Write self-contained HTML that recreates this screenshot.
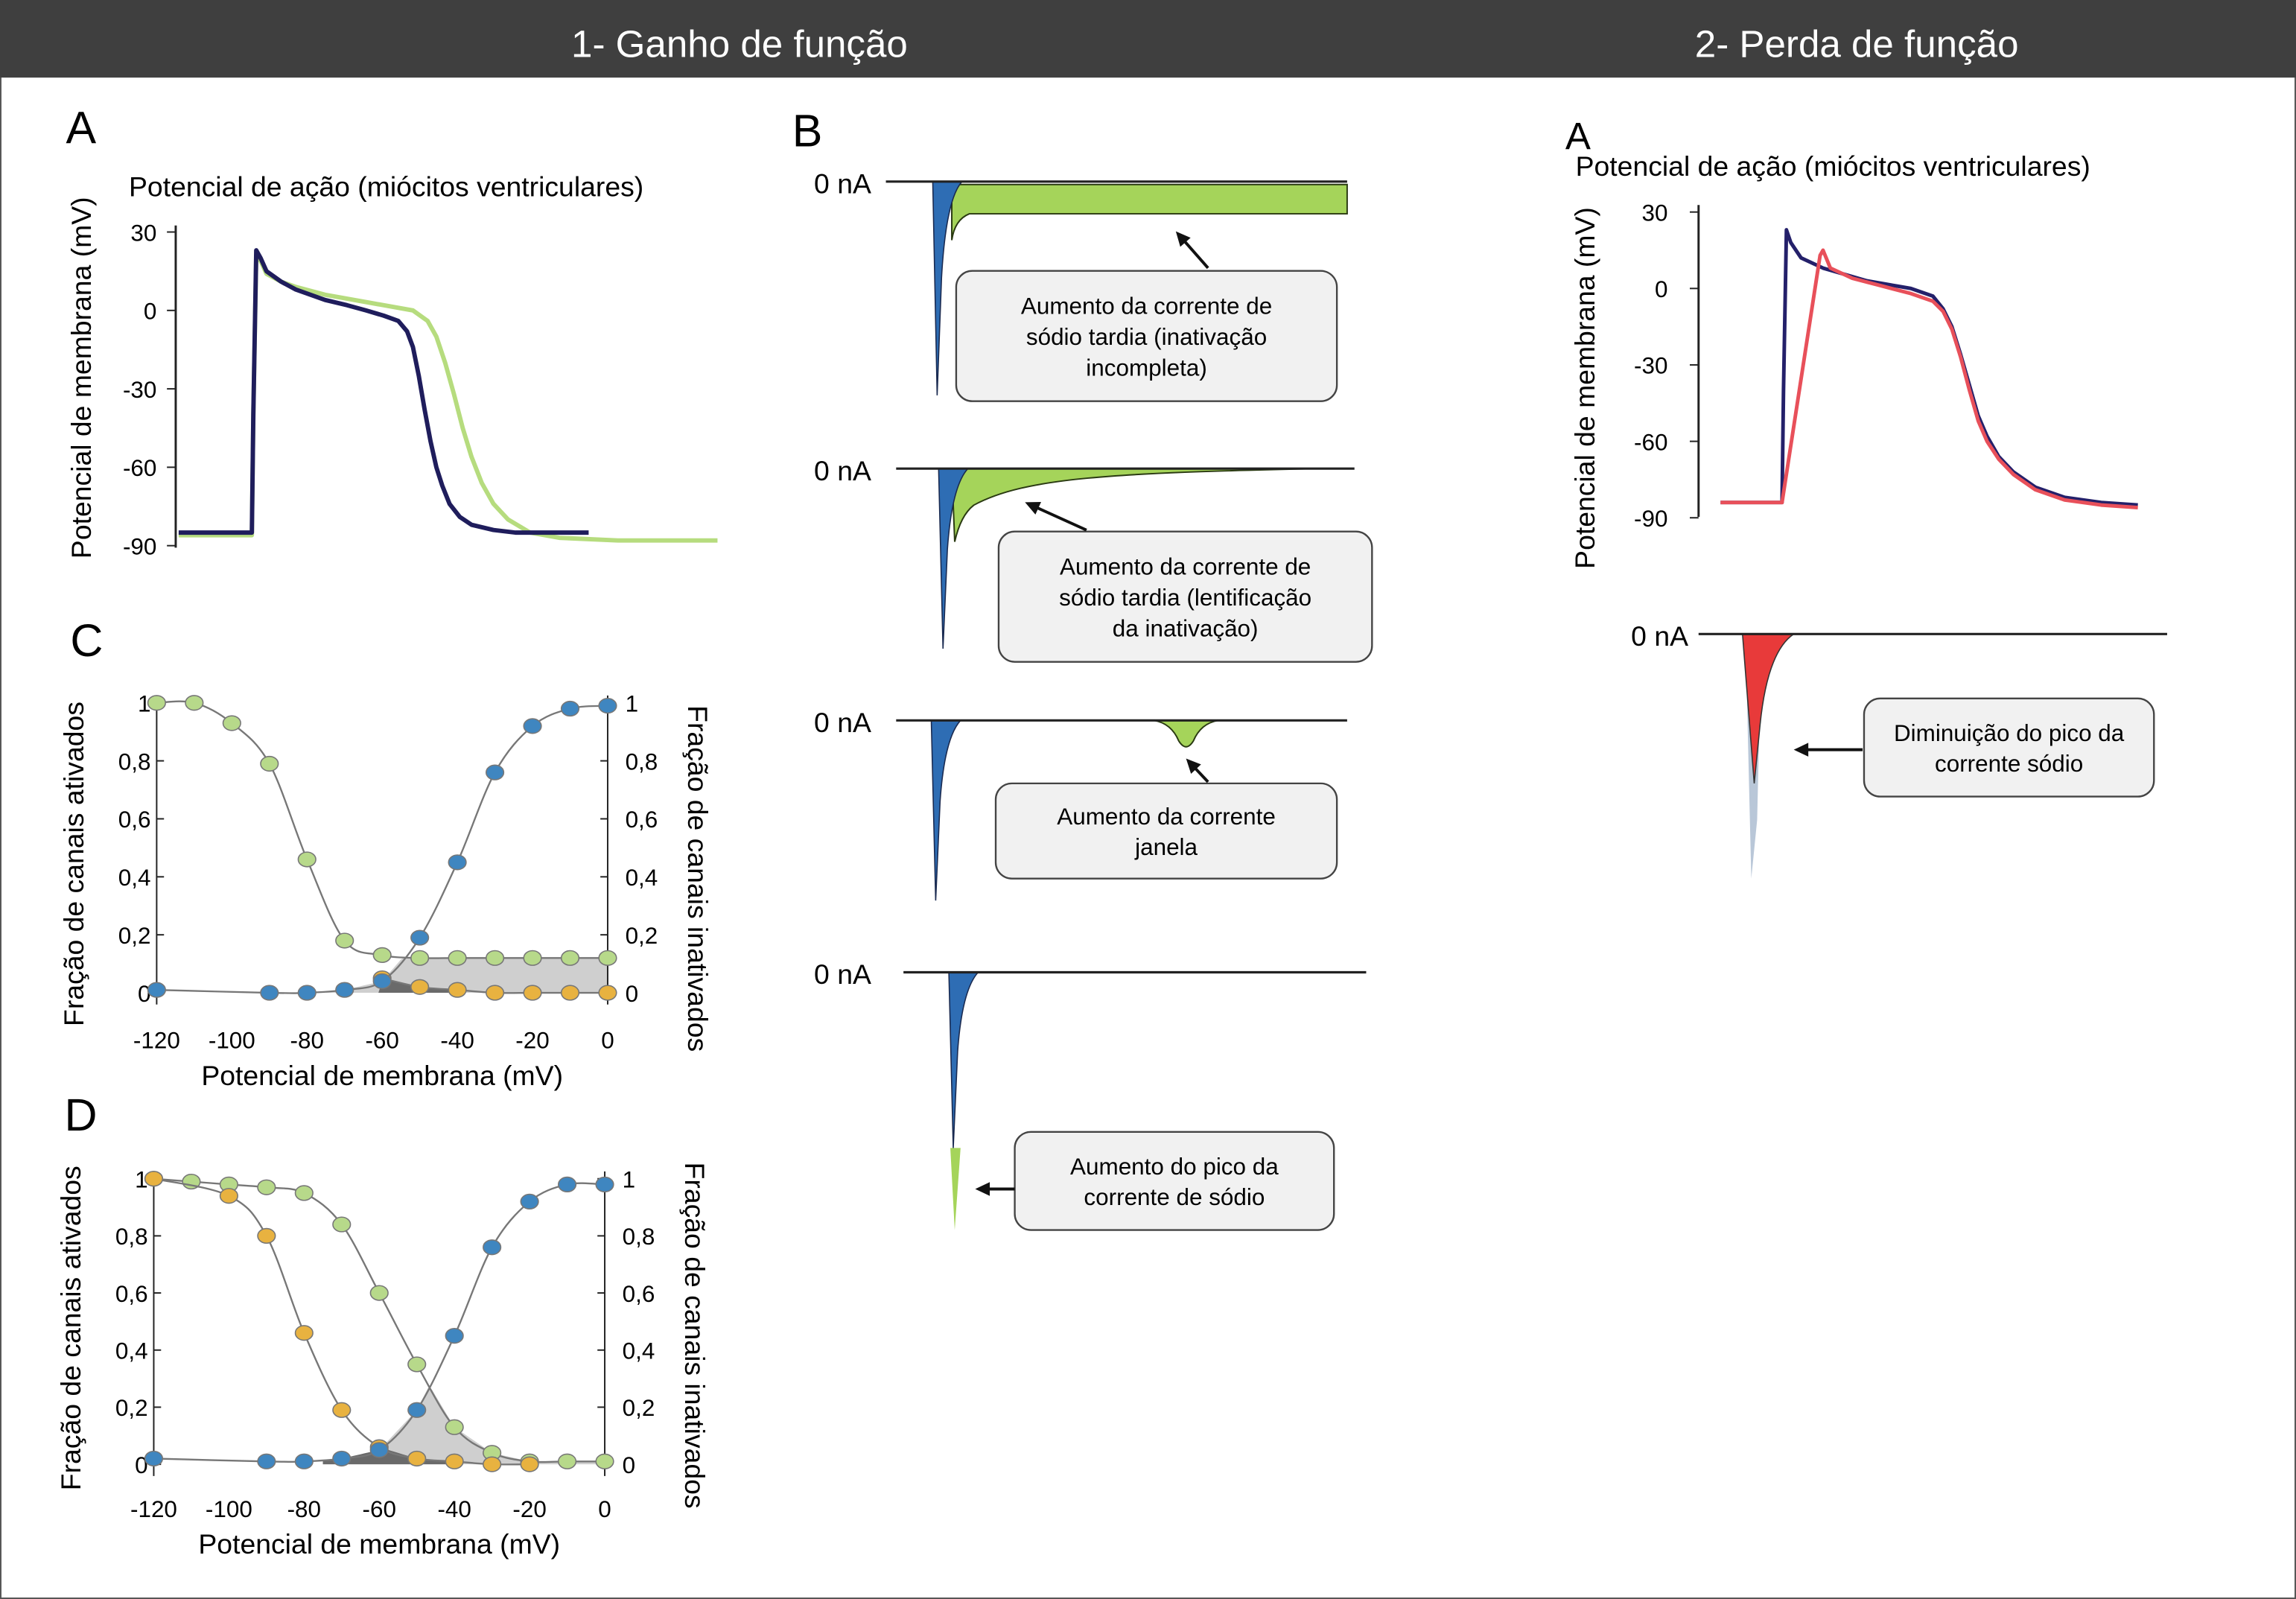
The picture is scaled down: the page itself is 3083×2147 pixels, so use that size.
<!DOCTYPE html>
<html><head><meta charset="utf-8">
<style>
html,body{margin:0;padding:0;background:#fff;}
svg{display:block;font-family:"Liberation Sans",sans-serif;}
</style></head>
<body>
<svg id="fig" width="3083" height="2147" viewBox="0 0 1568 1092" preserveAspectRatio="none" xmlns="http://www.w3.org/2000/svg">
<rect x="0" y="0" width="1568" height="1092" fill="#fff" stroke="#555" stroke-width="2"/>
<rect x="0" y="0" width="1568" height="53" fill="#3f3f3f"/>
<text x="505" y="39" font-size="26" fill="#fff" text-anchor="middle">1- Ganho de função</text>
<text x="1268" y="39" font-size="26" fill="#fff" text-anchor="middle">2- Perda de função</text>

<text x="45" y="98" font-size="31">A</text>
<text x="88" y="134" font-size="19">Potencial de ação (miócitos ventriculares)</text>
<text transform="translate(62,258) rotate(-90)" font-size="19" text-anchor="middle">Potencial de membrana (mV)</text>

<text x="541" y="100" font-size="31">B</text>
<text x="48" y="448" font-size="31">C</text>
<text x="44" y="772" font-size="31">D</text>
<text x="1069" y="102" font-size="26">A</text>
<text x="1076" y="120" font-size="19">Potencial de ação (miócitos ventriculares)</text>
<text transform="translate(1089,265) rotate(-90)" font-size="19" text-anchor="middle">Potencial de membrana (mV)</text>

<g id="layer"></g>
</svg>
<script>
// ---- Panel A (gain) action potentials ----
const apTicks=[30,0,-30,-60,-90];
const apNavyT=[0,50,51,53,56,60,70,80,100,115,128,140,150,156,160,164,168,172,176,180,185,192,200,215,230,280];
const apNavyV=[-85,-85,-40,23,20,15,11,8,4,2,0,-2,-4,-8,-14,-25,-38,-50,-60,-67,-74,-79,-82,-84,-85,-85];
const apGreenT=[0,50,51,53,56,60,70,80,100,130,160,170,176,182,188,194,200,207,215,225,240,260,300,368];
const apGreenV=[-86,-86,-40,21,19,14,11,9,6,3,0,-4,-10,-20,-32,-45,-56,-66,-74,-80,-85,-87,-88,-88];
// ---- Right panel AP ----
const apRTicks=[30,0,-30,-60,-90];
const apRNavyT=[0,42,43,45,48,55,70,100,130,145,152,158,164,170,176,182,190,200,215,235,260,285];
const apRNavyV=[-84,-84,-40,23,18,12,8,3,0,-3,-8,-15,-26,-38,-50,-58,-66,-72,-78,-82,-84,-85];
const apRRedT=[0,42,68,70,75,90,110,130,145,152,158,164,170,176,182,190,200,215,235,260,285];
const apRRedV=[-84,-84,13,15,8,4,1,-2,-5,-9,-16,-27,-40,-52,-60,-67,-73,-79,-83,-85,-86];
// ---- Panel C ----
const volts=[-120,-110,-100,-90,-80,-70,-60,-50,-40,-30,-20,-10,0];
const cGreen=[1,1,0.93,0.79,0.46,0.18,0.13,0.12,0.12,0.12,0.12,0.12,0.12];
const cBlueV=[-120,-90,-80,-70,-60,-50,-40,-30,-20,-10,0];
const cBlue=[0.01,0,0,0.01,0.04,0.19,0.45,0.76,0.92,0.98,0.99];
const cOrangeV=[-60,-50,-40,-30,-20,-10,0];
const cOrange=[0.05,0.02,0.01,0,0,0,0];
// ---- Panel D ----
const dGreen=[1,0.99,0.98,0.97,0.95,0.84,0.6,0.35,0.13,0.04,0.01,0.01,0.01];
const dOrangeV=[-120,-100,-90,-80,-70,-60,-50,-40,-30,-20];
const dOrange=[1,0.94,0.8,0.46,0.19,0.06,0.02,0.01,0,0];
const dBlueV=[-120,-90,-80,-70,-60,-50,-40,-30,-20,-10,0];
const dBlue=[0.02,0.01,0.01,0.02,0.05,0.19,0.45,0.76,0.92,0.98,0.98];
const fracTicks=[0,0.2,0.4,0.6,0.8,1];
const fracLabels=["0","0,2","0,4","0,6","0,8","1"];
const vTicks=[-120,-100,-80,-60,-40,-20,0];

const NS="http://www.w3.org/2000/svg";
const L=document.getElementById('layer');
function mk(tag,at,parent){const e=document.createElementNS(NS,tag);for(const k in at)e.setAttribute(k,at[k]);(parent||L).appendChild(e);return e;}
function txt(x,y,s,size,anchor){const t=mk('text',{x:x,y:y,'font-size':size,'text-anchor':anchor||'start'});t.textContent=s;return t;}
function smooth(p){
  let d='M'+p[0][0]+','+p[0][1];
  for(let i=0;i<p.length-1;i++){const p0=p[i-1]||p[i],p1=p[i],p2=p[i+1],p3=p[i+2]||p2;
    d+=' C'+(p1[0]+(p2[0]-p0[0])/6)+','+(p1[1]+(p2[1]-p0[1])/6)+' '+(p2[0]-(p3[0]-p1[0])/6)+','+(p2[1]-(p3[1]-p1[1])/6)+' '+p2[0]+','+p2[1];}
  return d;}
function poly(p){return 'M'+p.map(q=>q.join(',')).join(' L');}

// Panel A
const xA=t=>122+t, yA=v=>212-v*1.785;
let e=mk('line',{x1:120,y1:154,x2:120,y2:374,stroke:'#222','stroke-width':1.5});

apTicks.forEach(v=>{mk('line',{x1:114,x2:120,y1:yA(v),y2:yA(v),stroke:'#222'});
  const t=txt(107,yA(v)+6,String(v),16,'end');});
e=mk('path',{d:poly(apGreenT.map((t,i)=>[xA(t),yA(apGreenV[i])])),fill:'none',stroke:'#b6dc7e','stroke-width':3,'stroke-linejoin':'round'});

e=mk('path',{d:poly(apNavyT.map((t,i)=>[xA(t),yA(apNavyV[i])])),fill:'none',stroke:'#1f1d5c','stroke-width':3,'stroke-linejoin':'round'});


// Right AP
const xR=t=>1175+t, yR=v=>197-v*1.74;
e=mk('line',{x1:1160,y1:140,x2:1160,y2:353,stroke:'#222','stroke-width':1.5});

apRTicks.forEach(v=>{mk('line',{x1:1154,x2:1160,y1:yR(v),y2:yR(v),stroke:'#222'});
  const t=txt(1139,yR(v)+6,String(v),16,'end');});
e=mk('path',{d:poly(apRNavyT.map((t,i)=>[xR(t),yR(apRNavyV[i])])),fill:'none',stroke:'#24206a','stroke-width':2.5,'stroke-linejoin':'round'});

e=mk('path',{d:poly(apRRedT.map((t,i)=>[xR(t),yR(apRRedV[i])])),fill:'none',stroke:'#e8505a','stroke-width':2.5,'stroke-linejoin':'round'});


// Fraction charts
function fracChart(name,x0,x1,y1,y0,green,oV,orange,bV,blue,tickY,labelY,leftTitleY,rightTitleY){
  const X=v=>x0+(v+120)*(x1-x0)/120, Y=f=>y0-f*(y0-y1);
  const interp=(xs,ys,v)=>{for(let i=0;i<xs.length-1;i++)if(v>=xs[i]&&v<=xs[i+1])return ys[i]+(ys[i+1]-ys[i])*(v-xs[i])/(xs[i+1]-xs[i]);return 0;};
  let pts=[];for(let v=-75;v<=0;v+=1){pts.push([X(v),Y(Math.min(interp(volts,green,v),interp(bV,blue,v)))]);}
  let s=mk('polygon',{points:[[X(-75),Y(0)],...pts,[X(0),Y(0)]].map(p=>p.join(',')).join(' '),fill:'#cfcfcf'});
  
  pts=[];for(let v=-75;v<=-40;v+=1){pts.push([X(v),Y(Math.min(interp(oV,orange,v),interp(bV,blue,v)))]);}
  s=mk('polygon',{points:[[X(-75),Y(0)],...pts,[X(-40),Y(0)]].map(p=>p.join(',')).join(' '),fill:'#6a6a6a'});
  
  mk('line',{x1:x0,y1:y1-5,x2:x0,y2:y0+8,stroke:'#222'});mk('line',{x1:x1,y1:y1-5,x2:x1,y2:y0+8,stroke:'#222'});
  fracTicks.forEach((f,i)=>{mk('line',{x1:x0,x2:x0+5,y1:Y(f),y2:Y(f),stroke:'#222'});mk('line',{x1:x1-5,x2:x1,y1:Y(f),y2:Y(f),stroke:'#222'});
    let t=txt(x0-4,Y(f)+6,fracLabels[i],16,'end');
    t=txt(x1+12,Y(f)+6,fracLabels[i],16,'start');});
  vTicks.forEach(v=>{let t=txt(X(v),tickY,String(v),16,'middle');});
  let t=txt((x0+x1)/2,labelY,'Potencial de membrana (mV)',19,'middle');
  t=mk('text',{transform:`translate(${x0-50},${leftTitleY}) rotate(-90)`,'font-size':19,'text-anchor':'middle'});t.textContent='Fração de canais ativados';
  
  t=mk('text',{transform:`translate(${x1+55},${rightTitleY}) rotate(90)`,'font-size':19,'text-anchor':'middle'});t.textContent='Fração de canais inativados';
  
  const series=[[volts,green,'#b7d98a','green'],[oV,orange,'#e8b240','orange'],[bV,blue,'#3f86c0','blue']];
  series.forEach(([xs,ys,col,nm])=>{
    const p=mk('path',{d:smooth(xs.map((v,i)=>[X(v),Y(ys[i])])),fill:'none',stroke:'#777','stroke-width':1.2});
    
    xs.forEach((v,i)=>{const c=mk('ellipse',{cx:X(v),cy:Y(ys[i]),rx:6,ry:5,fill:col,stroke:'#777','stroke-width':0.8});
      });
  });
}
fracChart('panel-c',107,415,480,678,cGreen,cOrangeV,cOrange,cBlueV,cBlue,716,741,590,600);
fracChart('panel-d',105,413,805,1000,dGreen,dOrangeV,dOrange,dBlueV,dBlue,1036,1061,907,912);

// Current traces
const currentLabels=['0 nA','0 nA','0 nA','0 nA'];
const traces=[
 {y:124,x0:605,x1:920,sx:641,depth:146,green:'late'},
 {y:320,x0:612,x1:925,sx:645,depth:123,green:'slow'},
 {y:492,x0:612,x1:920,sx:640,depth:123,green:'window'},
 {y:664,x0:617,x1:933,sx:652,depth:176,green:'peak'}];
traces.forEach((tr,k)=>{
  let t=txt(595,tr.y+8,currentLabels[k],19,'end');
  if(tr.green==='late'){e=mk('path',{d:`M650,${tr.y+2} L920,${tr.y+2} L920,${tr.y+22} L662,${tr.y+22} Q652,${tr.y+26} 650,${tr.y+40} Z`,fill:'#a5d45a',stroke:'#2a3a12','stroke-width':1});}
  if(tr.green==='slow'){e=mk('path',{d:`M650,${tr.y} L900,${tr.y} C760,${tr.y+3} 700,${tr.y+6} 665,${tr.y+25} Q656,${tr.y+32} 652,${tr.y+50} Z`,fill:'#a5d45a',stroke:'#2a3a12','stroke-width':1});}
  if(tr.green==='window'){e=mk('path',{d:`M788,${tr.y} Q800,${tr.y+2} 805,${tr.y+14} Q810,${tr.y+22} 815,${tr.y+14} Q820,${tr.y+2} 832,${tr.y} Z`,fill:'#a5d45a',stroke:'#2a3a12','stroke-width':1});}
  if(tr.green==='peak'){e=mk('path',{d:`M649,${tr.y+120} L656,${tr.y+120} L652,${tr.y+tr.depth} Z`,fill:'#a5d45a'});}
  
  const d=tr.green==='peak'?120:tr.depth;
  e=mk('path',{d:`M${tr.sx-4},${tr.y} L${tr.sx-1},${tr.y+d} L${tr.sx+2},${tr.y+d*0.45} Q${tr.sx+5},${tr.y+12} ${tr.sx+16},${tr.y} Z`,fill:'#2e6db4',stroke:'#1a2a50','stroke-width':0.8});
  
  e=mk('line',{x1:tr.x0,y1:tr.y,x2:tr.x1,y2:tr.y,stroke:'#222','stroke-width':1.6});
  
});
let t=txt(1153,441,'0 nA',19,'end');
e=mk('path',{d:'M1192,433 L1196,600 L1200,560 L1203,433 Z',fill:'#b9c7d8'});
e=mk('path',{d:'M1190,433 L1198,535 L1202,495 Q1207,445 1225,433 Z',fill:'#e83a3a',stroke:'#333','stroke-width':0.8});
e=mk('line',{x1:1160,y1:433,x2:1480,y2:433,stroke:'#222','stroke-width':1.6});

const boxes=[
 {x:653,y:185,w:260,h:89,lines:['Aumento da corrente de','sódio tardia (inativação','incompleta)'],ax1:825,ay1:183,ax2:803,ay2:158},
 {x:682,y:363,w:255,h:89,lines:['Aumento da corrente de','sódio tardia (lentificação','da inativação)'],ax1:742,ay1:362,ax2:700,ay2:343},
 {x:680,y:535,w:233,h:65,lines:['Aumento da corrente','janela'],ax1:825,ay1:534,ax2:810,ay2:518},
 {x:693,y:773,w:218,h:67,lines:['Aumento do pico da','corrente de sódio'],ax1:693,ay1:812,ax2:666,ay2:812},
 {x:1273,y:477,w:198,h:67,lines:['Diminuição do pico da','corrente sódio'],ax1:1272,ay1:512,ax2:1225,ay2:512}];
boxes.forEach(b=>{
  e=mk('rect',{x:b.x,y:b.y,width:b.w,height:b.h,rx:11,fill:'#f1f1f1',stroke:'#444','stroke-width':1.2});
  
  const lh=21, start=b.y+b.h/2-(b.lines.length-1)*lh/2+6;
  b.lines.forEach((s,i)=>{const tt=txt(b.x+b.w/2,start+i*lh,s,16,'middle');});
  const ang=Math.atan2(b.ay2-b.ay1,b.ax2-b.ax1);
  e=mk('line',{x1:b.ax1,y1:b.ay1,x2:b.ax2-Math.cos(ang)*8,y2:b.ay2-Math.sin(ang)*8,stroke:'#111','stroke-width':2});
  
  const hx=b.ax2,hy=b.ay2,a1=ang+2.7,a2=ang-2.7;
  e=mk('polygon',{points:`${hx},${hy} ${hx+11*Math.cos(a1)},${hy+11*Math.sin(a1)} ${hx+11*Math.cos(a2)},${hy+11*Math.sin(a2)}`,fill:'#111'});
  
});
</script>
</body></html>
